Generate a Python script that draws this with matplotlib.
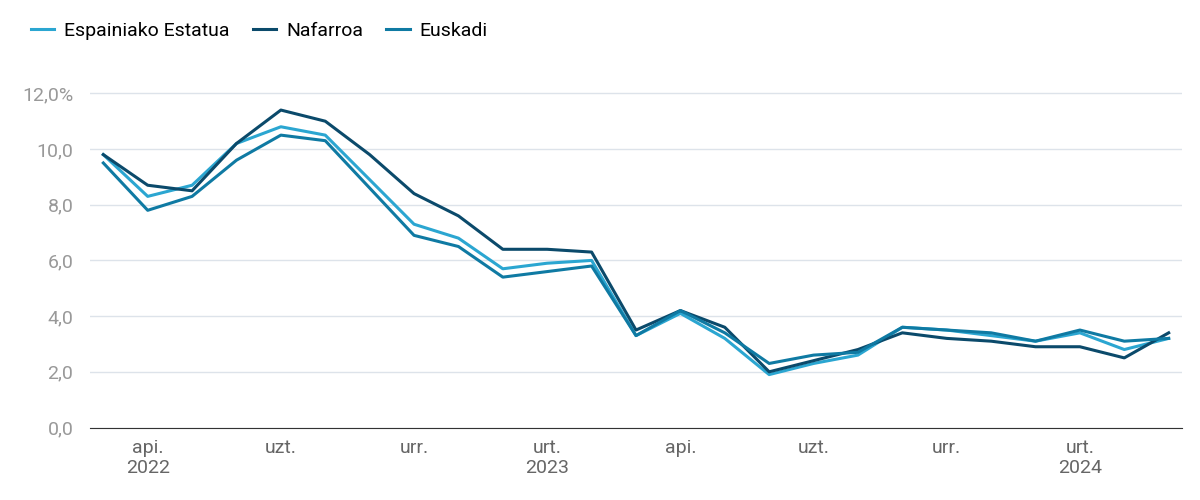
import matplotlib
matplotlib.use('Agg')
import matplotlib.pyplot as plt

# - Data (March 2022 .. March 2024, monthly)
espainia = [9.8, 8.3, 8.7, 10.2, 10.8, 10.5, 8.9, 7.3, 6.8, 5.7, 5.9, 6.0, 3.3,
            4.1, 3.2, 1.9, 2.3, 2.6, 3.6, 3.5, 3.3, 3.1, 3.4, 2.8, 3.2]
nafarroa = [9.8, 8.7, 8.5, 10.2, 11.4, 11.0, 9.8, 8.4, 7.6, 6.4, 6.4, 6.3, 3.5,
            4.2, 3.6, 2.0, 2.4, 2.8, 3.4, 3.2, 3.1, 2.9, 2.9, 2.5, 3.4]
euskadi = [9.5, 7.8, 8.3, 9.6, 10.5, 10.3, 8.6, 6.9, 6.5, 5.4, 5.6, 5.8, 3.3,
           4.2, 3.4, 2.3, 2.6, 2.7, 3.6, 3.5, 3.4, 3.1, 3.5, 3.1, 3.2]
tick_idx = [1, 4, 7, 10, 13, 16, 19, 22]
tick_labels = ['api.\n2022', 'uzt.', 'urr.', 'urt.\n2023', 'api.', 'uzt.', 'urr.', 'urt.\n2024']
y_ticks = [0, 2, 4, 6, 8, 10, 12]
y_labels = ['0,0', '2,0', '4,0', '6,0', '8,0', '10,0', '12,0%']

plt.rcParams['font.family'] = 'Roboto'
fig, ax = plt.subplots(figsize=(12, 5), dpi=100)
fig.subplots_adjust(left=0.075, right=0.985, top=0.83, bottom=0.145)

x = range(len(espainia))
ax.plot(x, espainia, color='#2ba6d1', lw=2.2, label='Espainiako Estatua')
ax.plot(x, nafarroa, color='#0b4a6b', lw=2.2, label='Nafarroa')
ax.plot(x, euskadi, color='#0f7aa3', lw=2.2, label='Euskadi')

ax.set_xlim(-0.3, len(espainia) - 0.7)
ax.set_ylim(0, 12.3)
ax.set_yticks(y_ticks)
ax.set_yticklabels(y_labels)
ax.set_xticks(tick_idx)
ax.set_xticklabels(tick_labels)
ax.grid(axis='y', color='#dde3ea', lw=1)
ax.set_axisbelow(True)
for s in ['top', 'right', 'left']:
    ax.spines[s].set_visible(False)
ax.spines['bottom'].set_color('#333333')
ax.tick_params(axis='y', length=0, labelsize=14, colors='#999999', pad=12)
ax.tick_params(axis='x', length=0, labelsize=14, colors='#666666', pad=8)

ax.legend(loc='lower left', bbox_to_anchor=(-0.07, 1.08), ncol=3, frameon=False,
          fontsize=14, handlelength=1.2, handletextpad=0.5, columnspacing=1.2)

plt.savefig('out.png')
